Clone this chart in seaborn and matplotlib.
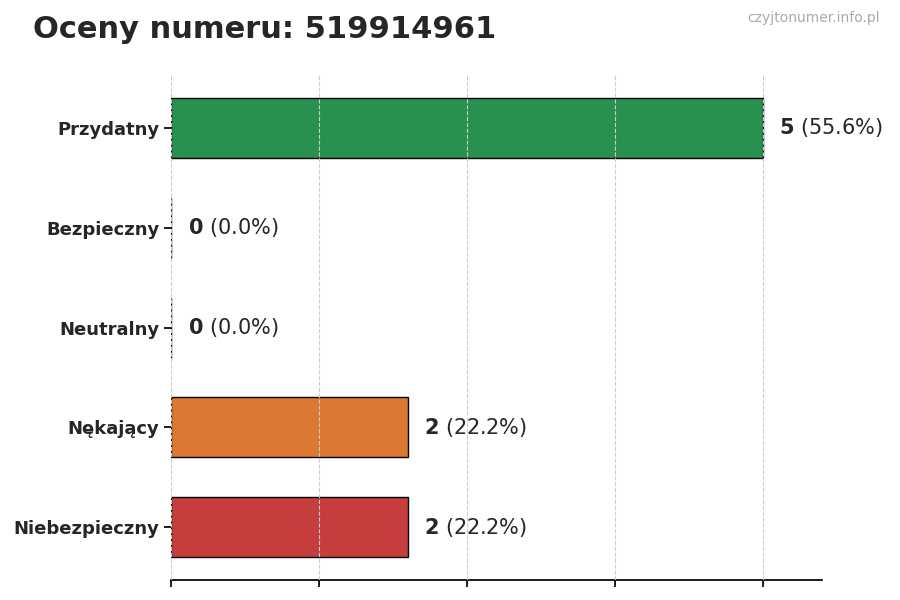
import matplotlib
matplotlib.use("Agg")
import matplotlib.pyplot as plt
import seaborn as sns
import pandas as pd

categories = ["Przydatny", "Bezpieczny", "Neutralny", "Nękający", "Niebezpieczny"]
counts = [5, 0, 0, 2, 2]
colors = ["#16a34a", "#9ca3af", "#3b82f6", "#f97316", "#dc2626"]
total = sum(counts)

sns.set_theme(style="white")
plt.rcParams['font.family'] = ['DejaVu Sans']

fig = plt.figure(figsize=(9, 6), dpi=100)
ax = fig.add_axes([0.19, 0.033, 0.723, 0.842])
df = pd.DataFrame({"cat": categories, "n": counts})
sns.barplot(data=df, x="n", y="cat", hue="cat", palette=colors, legend=False,
            width=0.6, edgecolor="black", linewidth=1, ax=ax, orient="h")
ax.set_xlim(0, 5.5)
ax.set_ylim(4.53, -0.53)
ax.set_xticks([0, 1.25, 2.5, 3.75, 5])
ax.set_xticklabels([])
ax.xaxis.grid(True, linestyle="--", color="#cccccc", linewidth=0.8)
ax.set_axisbelow(False)
for s in ["top", "right", "left"]:
    ax.spines[s].set_visible(False)
ax.spines["bottom"].set_color("black")
ax.tick_params(axis="x", bottom=True, length=5, color="black")
ax.tick_params(axis="y", left=True, length=5, color="black")
ax.set_xlabel("")
ax.set_ylabel("")
for lab in ax.get_yticklabels():
    lab.set_fontweight("bold")
    lab.set_fontsize(13)
for i, c in enumerate(counts):
    pct = c / total * 100
    ax.annotate(f"$\\bf{{{c}}}$ ({pct:.1f}%)", (c, i), xytext=(12, 0),
                textcoords="offset points", va="center", ha="left", fontsize=15)
fig.text(0.037, 0.95, "Oceny numeru: 519914961", fontsize=22, fontweight="bold", va="center")
fig.text(0.978, 0.97, "czyjtonumer.info.pl", fontsize=10, color="#aaaaaa", ha="right", va="center")
fig.savefig("out.png", dpi=100)
